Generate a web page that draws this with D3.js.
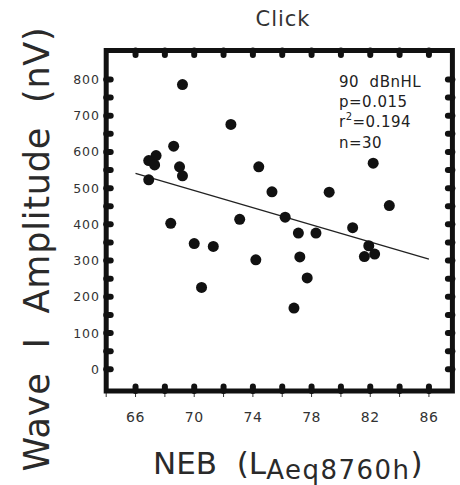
<!DOCTYPE html>
<html>
<head>
<meta charset="utf-8">
<script src="https://cdn.jsdelivr.net/npm/d3@7"></script>
<style>
  html, body { margin: 0; padding: 0; background: #fff; }
  svg { display: block; }
  text { font-family: "DejaVu Sans", sans-serif; }
</style>
</head>
<body>
<svg id="chart" width="460" height="485"></svg>
<script>
// NEB exposure (LAeq8760h) vs. wave I amplitude (nV), click at 90 dBnHL
const nebValues = [69.2, 72.5, 68.6, 67.4, 66.9, 67.3, 69.0, 69.2, 66.9, 74.4,
                   82.2, 75.3, 79.2, 83.3, 68.4, 73.1, 76.2, 77.1, 78.3, 80.8,
                   70.0, 71.3, 74.2, 77.2, 77.7, 76.8, 70.5, 81.9, 81.6, 82.3];
const waveIAmplitude = [786, 676, 616, 590, 576, 564, 559, 534, 523, 559,
                        569, 490, 489, 452, 403, 414, 420, 376, 376, 391,
                        347, 339, 302, 310, 252, 169, 226, 341, 311, 318];

// Linear fit drawn across the plotted NEB range
const fitNeb = [66, 86];
const fitAmplitude = [541, 304];

const xTickLabels = [66, 70, 74, 78, 82, 86];
const yTickLabels = [0, 100, 200, 300, 400, 500, 600, 700, 800];
const xMinorTicks = d3.range(66, 86.1, 2);
const yMinorTicks = d3.range(0, 800.1, 50);

const statLines = ["90  dBnHL", "p=0.015", "r2=0.194", "n=30"];

const svg = d3.select("#chart");

const x = d3.scaleLinear().domain([64, 87.6]).range([106.2, 452.4]);
const y = d3.scaleLinear().domain([-60, 880]).range([391, 50.5]);

const [x0, x1] = x.range();
const [y0, y1] = y.range(); // y0 bottom, y1 top

// Title
svg.append("text")
  .attr("x", 283).attr("y", 26)
  .attr("text-anchor", "middle")
  .attr("font-size", 21)
  .attr("letter-spacing", 1)
  .attr("fill", "#333")
  .text("Click");

// Thin outward ticks under the bottom frame
svg.append("g").selectAll("line")
  .data(d3.range(64, 86.1, 2))
  .join("line")
  .attr("x1", d => x(d)).attr("x2", d => x(d))
  .attr("y1", y0).attr("y2", y0 + 6)
  .attr("stroke", "#333").attr("stroke-width", 1);

// Heavy frame
svg.append("rect")
  .attr("x", x0).attr("y", y1)
  .attr("width", x1 - x0).attr("height", y0 - y1)
  .attr("fill", "none")
  .attr("stroke", "#111")
  .attr("stroke-width", 5);

// Inward tick bumps on all four sides
const bump = svg.append("g")
  .attr("stroke", "#111")
  .attr("stroke-width", 6)
  .attr("stroke-linecap", "round");

bump.selectAll("line.bx")
  .data(xMinorTicks)
  .join("line").attr("class", "bx")
  .attr("x1", d => x(d)).attr("x2", d => x(d))
  .attr("y1", y0).attr("y2", y0 - 4.5);
bump.selectAll("line.tx")
  .data(xMinorTicks)
  .join("line").attr("class", "tx")
  .attr("x1", d => x(d)).attr("x2", d => x(d))
  .attr("y1", y1).attr("y2", y1 + 4.5);
bump.selectAll("line.ly")
  .data(yMinorTicks)
  .join("line").attr("class", "ly")
  .attr("x1", x0).attr("x2", x0 + 4.5)
  .attr("y1", d => y(d)).attr("y2", d => y(d));
bump.selectAll("line.ry")
  .data(yMinorTicks)
  .join("line").attr("class", "ry")
  .attr("x1", x1).attr("x2", x1 - 4.5)
  .attr("y1", d => y(d)).attr("y2", d => y(d));

// Tick labels
svg.append("g").selectAll("text")
  .data(xTickLabels)
  .join("text")
  .attr("x", d => x(d)).attr("y", 422)
  .attr("text-anchor", "middle")
  .attr("font-size", 14)
  .attr("letter-spacing", 0.5)
  .attr("fill", "#333")
  .text(d => d);

svg.append("g").selectAll("text")
  .data(yTickLabels)
  .join("text")
  .attr("x", 100).attr("y", d => y(d) + 4.5)
  .attr("text-anchor", "end")
  .attr("font-size", 12.5)
  .attr("letter-spacing", 1)
  .attr("fill", "#333")
  .text(d => d);

// Axis titles
svg.append("text")
  .attr("transform", "translate(49,249) rotate(-90)")
  .attr("text-anchor", "middle")
  .attr("font-size", 35)
  .attr("letter-spacing", 0.8)
  .attr("fill", "#2a2a2a")
  .style("white-space", "pre")
  .text("Wave  I  Amplitude  (nV)");

const xt = svg.append("text")
  .attr("x", 153).attr("y", 474)
  .attr("font-size", 31)
  .attr("fill", "#2a2a2a")
  .style("white-space", "pre");
xt.append("tspan").text("NEB  (L");
xt.append("tspan").attr("dy", 5).attr("font-size", 26).attr("letter-spacing", 1.5).text("Aeq8760h");
xt.append("tspan").attr("dy", -5).text(")");

// Regression line
svg.append("line")
  .attr("x1", x(fitNeb[0])).attr("y1", y(fitAmplitude[0]))
  .attr("x2", x(fitNeb[1])).attr("y2", y(fitAmplitude[1]))
  .attr("stroke", "#222").attr("stroke-width", 1.3);

// Data points
svg.append("g").selectAll("circle")
  .data(nebValues.map((v, i) => [v, waveIAmplitude[i]]))
  .join("circle")
  .attr("cx", d => x(d[0])).attr("cy", d => y(d[1]))
  .attr("r", 5.5)
  .attr("fill", "#111");

// Statistics annotation
const stats = svg.append("g").attr("fill", "#222").attr("font-size", 15);
statLines.forEach((line, i) => {
  const t = stats.append("text")
    .attr("x", 339).attr("y", 87 + i * 20.2)
    .attr("letter-spacing", 0.5)
    .style("white-space", "pre");
  if (line.startsWith("r2")) {
    t.append("tspan").text("r");
    t.append("tspan").attr("dy", -7).attr("font-size", 10).text("2");
    t.append("tspan").attr("dy", 7).text(line.slice(2));
  } else {
    t.text(line);
  }
});
</script>
</body>
</html>
